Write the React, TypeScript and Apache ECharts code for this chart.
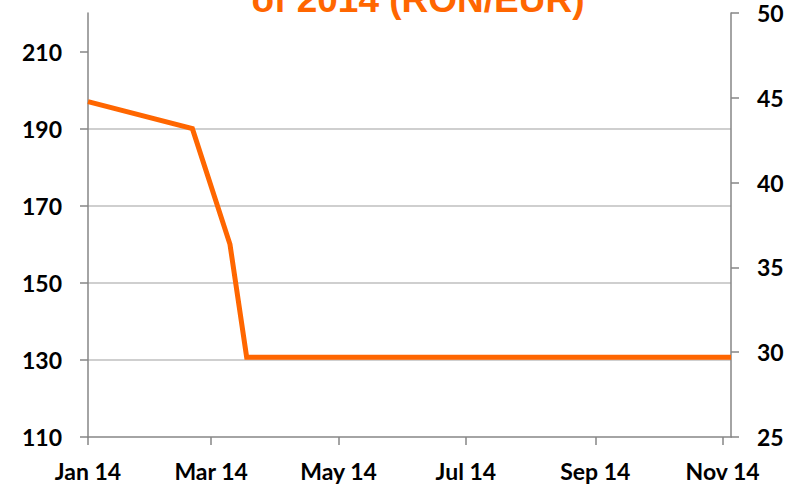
import React, { useEffect, useRef } from "react";
import * as echarts from "echarts";

const pointDates = ["2014-01-01", "2014-02-20", "2014-03-10", "2014-03-18", "2014-11-05"];
const rateValues = [197, 190, 160, 130.7, 130.7];

const xTickDates = ["2014-01-01", "2014-03-01", "2014-05-01", "2014-07-01", "2014-09-01", "2014-11-01"];
const xTickLabels = ["Jan 14", "Mar 14", "May 14", "Jul 14", "Sep 14", "Nov 14"];
const leftTicks = [110, 130, 150, 170, 190, 210];
const rightTicks = [25, 30, 35, 40, 45, 50];
const titleText = "of 2014 (RON/EUR)";

const ts = (s: string) => {
  const [y, m, d] = s.split("-").map(Number);
  return Date.UTC(y, m - 1, d);
};

const ORANGE = "#ff6600";
const AXIS = "#868686";
const GRID = "#bfbfbf";
const labelFont = {
  color: "#000",
  fontFamily: "Lato",
  fontWeight: "bold" as const,
  fontSize: 23,
};

export default function App() {
  const ref = useRef<HTMLDivElement>(null);
  useEffect(() => {
    if (!ref.current) return;
    const chart = echarts.init(ref.current, undefined, { renderer: "svg" });
    const tickTs = xTickDates.map(ts);
    chart.setOption({
      animation: false,
      grid: { left: 88, right: 57, top: 13, bottom: 47, containLabel: false },
      graphic: [
        {
          type: "text",
          x: 418,
          y: -1,
          style: {
            text: titleText,
            fill: ORANGE,
            font: "bold 37px 'Liberation Sans', Arial, sans-serif",
            textAlign: "center",
            textVerticalAlign: "middle",
          },
        },
      ],
      xAxis: {
        type: "value",
        min: ts("2014-01-01"),
        max: ts(pointDates[pointDates.length - 1]),
        axisLine: { show: true, onZero: false, lineStyle: { color: AXIS, width: 1.5 } },
        axisTick: {
          show: true,
          inside: false,
          length: 8,
          customValues: tickTs,
          lineStyle: { color: AXIS, width: 1.5 },
        },
        axisLabel: {
          ...labelFont,
          margin: 22,
          customValues: tickTs,
          hideOverlap: false,
          formatter: (v: number) => {
            const i = tickTs.findIndex((t) => Math.abs(t - v) < 43200000);
            return i >= 0 ? xTickLabels[i] : "";
          },
        },
        splitLine: { show: false },
      },
      yAxis: [
        {
          type: "value",
          position: "left",
          min: 110,
          max: 220,
          interval: 10,
          axisLine: { show: true, lineStyle: { color: AXIS, width: 1.5 } },
          axisTick: {
            show: true,
            inside: false,
            length: 8,
            customValues: leftTicks,
            lineStyle: { color: AXIS, width: 1.5 },
          },
          axisLabel: { ...labelFont, margin: 26, customValues: leftTicks },
          splitLine: {
            show: true,
            showMinLine: false,
            showMaxLine: false,
            lineStyle: { color: GRID, width: 1.5 },
          },
        },
        {
          type: "value",
          position: "right",
          min: 25,
          max: 50,
          interval: 5,
          axisLine: { show: true, lineStyle: { color: AXIS, width: 1.5 } },
          axisTick: {
            show: true,
            inside: false,
            length: 8,
            customValues: rightTicks,
            lineStyle: { color: AXIS, width: 1.5 },
          },
          axisLabel: { ...labelFont, margin: 26, customValues: rightTicks },
          splitLine: { show: false },
        },
      ],
      series: [
        {
          type: "line",
          yAxisIndex: 0,
          data: pointDates.map((d, i) => [ts(d), rateValues[i]]),
          showSymbol: false,
          symbol: "none",
          lineStyle: { color: ORANGE, width: 5, join: "miter" },
          z: 5,
        },
      ],
    });
    return () => chart.dispose();
  }, []);
  return (
    <div
      ref={ref}
      style={{ position: "absolute", left: 0, top: 0, width: 788, height: 484, background: "#fff" }}
    />
  );
}
